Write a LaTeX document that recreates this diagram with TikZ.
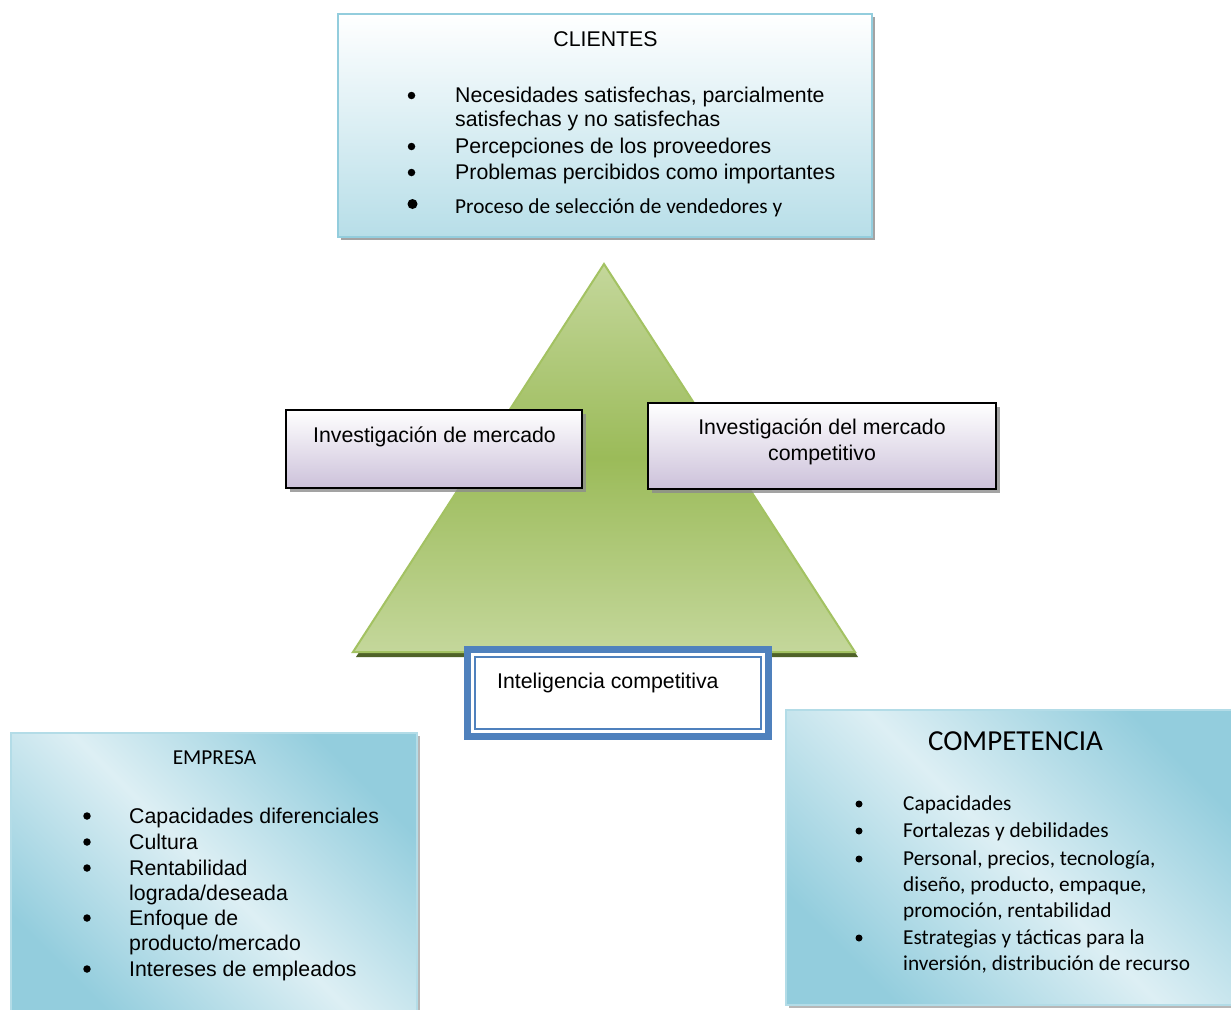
\documentclass[tikz,border=0pt]{standalone}
\usepackage{fontspec}
\setmainfont{Liberation Sans}
\newfontfamily\calf{Carlito}
\usetikzlibrary{shadows}
\definecolor{cliB}{HTML}{B7DEE8}
\definecolor{cliBorder}{HTML}{93CDDD}
\definecolor{triL}{HTML}{C4D79B}
\definecolor{triD}{HTML}{9BBB59}
\definecolor{triE}{HTML}{A3C262}
\definecolor{triS}{HTML}{4F6228}
\definecolor{purp}{HTML}{CCC1DA}
\definecolor{blueB}{HTML}{4F81BD}
\definecolor{aqD}{HTML}{93CDDD}
\definecolor{aqL}{HTML}{DDEFF4}
\newcommand{\fa}{\fontsize{21.3}{24.5}\selectfont}
\newcommand{\fc}{\calf\fontsize{21.3}{25}\selectfont}
\tikzset{
  txt/.style={inner sep=0pt, anchor=base west, font=\fa},
  ctx/.style={inner sep=0pt, anchor=base west, font=\fc},
  bul/.style={circle, fill=black, inner sep=0pt, minimum size=7.5pt},
  clibox/.style={draw=cliBorder, line width=1.5pt, top color=white, bottom color=cliB,
     drop shadow={shadow xshift=3pt, shadow yshift=-3pt, fill=black!45, opacity=0.8}},
  purbox/.style={draw=black, line width=2pt, top color=white, bottom color=purp,
     drop shadow={shadow xshift=4pt, shadow yshift=-4pt, fill=black!45, opacity=0.8}},
  aqbox/.style={draw=aqD!70, line width=1.2pt, top color=aqD, bottom color=aqD, middle color=aqL, shading angle=-45,
     drop shadow={shadow xshift=3pt, shadow yshift=-3pt, fill=black!35, opacity=0.8}},
}
\begin{document}
\begin{tikzpicture}[x=1pt,y=-1pt]
\useasboundingbox (0,0) rectangle (1231,1009);
\fill[white] (0,0) rectangle (1231,1009);

% CLIENTES
\node[clibox, minimum width=534pt, minimum height=223pt, inner sep=0pt] (cli) at (605,125.5) {};
\node[inner sep=0pt, anchor=base, font=\fa] (cliT) at (605.5,46.5) {CLIENTES};
\node[bul] (cb1) at (411.5,95.5) {};
\node[txt] (c1) at (455,102) {Necesidades satisfechas, parcialmente};
\node[txt] (c1b) at (455,126) {satisfechas y no satisfechas};
\node[bul] (cb2) at (411.5,146.5) {};
\node[txt] (c2) at (455,153) {Percepciones de los proveedores};
\node[bul] (cb3) at (411.5,172.5) {};
\node[txt] (c3) at (455,179) {Problemas percibidos como importantes};
\node[bul, minimum size=10pt] (cb4) at (412.5,204) {};
\node[ctx] (c4) at (455,213) {Proceso de selección de vendedores y};

% Triangle
\coordinate (apex) at (604,264);
\coordinate (bl) at (353,652);
\coordinate (br) at (855,652);
\fill[triS] ([xshift=3pt,yshift=-5pt]apex) -- ([xshift=3pt,yshift=-5pt]br) -- ([xshift=3pt,yshift=-5pt]bl) -- cycle;
\path[draw=triE, line width=2pt, top color=triL, bottom color=triL, middle color=triD] (apex) -- (br) -- (bl) -- cycle;

% Inner boxes
\node[purbox, minimum width=296pt, minimum height=78pt, inner sep=0pt] (im) at (434,449) {};
\node[inner sep=0pt, anchor=base, font=\fa] (imT) at (434.5,442) {Investigación de mercado};
\node[purbox, minimum width=348pt, minimum height=86pt, inner sep=0pt] (imc) at (822,446) {};
\node[inner sep=0pt, anchor=base, font=\fa] (imcT1) at (822,434) {Investigación del mercado};
\node[inner sep=0pt, anchor=base, font=\fa] (imcT2) at (822,460) {competitivo};

% Inteligencia competitiva
\node[draw=blueB, fill=white, line width=7pt, minimum width=301pt, minimum height=87pt, inner sep=0pt] (ic) at (618,693) {};
\draw[blueB, line width=1.8pt] ([xshift=11pt,yshift=-11pt]ic.north west) rectangle ([xshift=-11pt,yshift=11pt]ic.south east);
\node[txt] (icT) at (497,688) {Inteligencia competitiva};

% EMPRESA
\node[aqbox, minimum width=406pt, minimum height=285pt, inner sep=0pt] (emp) at (214,875.5) {};
\node[inner sep=0pt, anchor=base, font=\fc] (empT) at (214.5,764) {EMPRESA};
\node[bul] (eb1) at (87,816) {};
\node[txt] (e1) at (129,823) {Capacidades diferenciales};
\node[bul] (eb2) at (87,842) {};
\node[txt] (e2) at (129,849) {Cultura};
\node[bul] (eb3) at (87,868) {};
\node[txt] (e3) at (129,875) {Rentabilidad};
\node[txt] (e3b) at (129,900) {lograda/deseada};
\node[bul] (eb4) at (87,918) {};
\node[txt] (e4) at (129,925) {Enfoque de};
\node[txt] (e4b) at (129,950) {producto/mercado};
\node[bul] (eb5) at (87,969) {};
\node[txt] (e5) at (129,976) {Intereses de empleados};

% COMPETENCIA
\node[aqbox, minimum width=455pt, minimum height=295pt, inner sep=0pt] (comp) at (1013.5,857.5) {};
\node[inner sep=0pt, anchor=base, font=\calf\fontsize{29}{33}\selectfont] (compT) at (1015.5,750) {COMPETENCIA};
\node[bul, minimum size=7pt] (pb1) at (859,804) {};
\node[ctx] (p1) at (903,810) {Capacidades};
\node[bul, minimum size=7pt] (pb2) at (859,831) {};
\node[ctx] (p2) at (903,837) {Fortalezas y debilidades};
\node[bul, minimum size=7pt] (pb3) at (859,859) {};
\node[ctx] (p3) at (903,865) {Personal, precios, tecnología,};
\node[ctx] (p3b) at (903,891) {diseño, producto, empaque,};
\node[ctx] (p3c) at (903,917) {promoción, rentabilidad};
\node[bul, minimum size=7pt] (pb4) at (859,938) {};
\node[ctx] (p4) at (903,944) {Estrategias y tácticas para la};
\node[ctx] (p4b) at (903,970) {inversión, distribución de recurso};
\end{tikzpicture}
\end{document}
